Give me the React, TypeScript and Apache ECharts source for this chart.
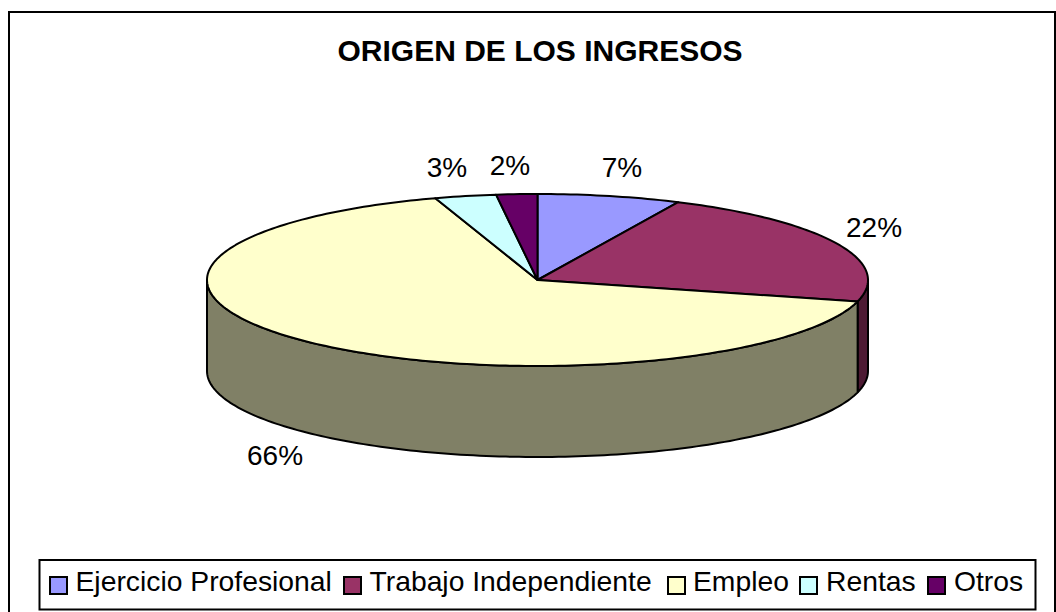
import React, { useEffect, useRef } from "react";
import * as echarts from "echarts";

const categories = ["Ejercicio Profesional", "Trabajo Independiente", "Empleo", "Rentas", "Otros"];
const values = [7, 22, 66, 3, 2];
const percentLabels = ["7%", "22%", "66%", "3%", "2%"];
const topColors = ["#9999ff", "#993366", "#ffffcc", "#ccffff", "#660066"];
const sideColors = ["#4d4d80", "#4d1a33", "#808066", "#668080", "#330033"];
const labelPositions = [[622, 167], [874, 227], [275, 455], [447, 167], [510, 165]];
const legendSwatchX = [50, 344, 668, 800, 928];
const legendTextX = [75.5, 369.5, 693, 826, 954];

const CX = 537.5, CY = 280, RX = 330.5, RY = 86, DEPTH = 91;
const total = values.reduce((a, b) => a + b, 0);
const pt = (t: number, dy = 0) => [CX + RX * Math.sin(t), CY - RY * Math.cos(t) + dy];
const stroke = { stroke: "#000", lineWidth: 2, lineJoin: "round" as const };

function arcPoints(a: number, b: number, dy = 0) {
  const n = Math.max(2, Math.ceil((b - a) / 0.02));
  const out: number[][] = [];
  for (let i = 0; i <= n; i++) out.push(pt(a + ((b - a) * i) / n, dy));
  return out;
}

function renderItem(params: any, api: any) {
  const i = params.dataIndex;
  const before = values.slice(0, i).reduce((a, b) => a + b, 0);
  const a = (before / total) * Math.PI * 2;
  const b = ((before + api.value(1)) / total) * Math.PI * 2;
  const children: any[] = [];
  const wa = Math.max(a, Math.PI / 2);
  const wb = Math.min(b, (Math.PI * 3) / 2);
  if (wb > wa) {
    const front = arcPoints(wa, wb);
    const back = arcPoints(wa, wb, DEPTH).reverse();
    children.push({
      type: "polygon",
      shape: { points: [...front, ...back] },
      style: { fill: sideColors[i], ...stroke },
    });
  }
  children.push({
    type: "polygon",
    shape: { points: [[CX, CY], ...arcPoints(a, b)] },
    style: { fill: topColors[i], ...stroke },
  });
  return { type: "group", children };
}

export default function App() {
  const ref = useRef<HTMLDivElement>(null);
  useEffect(() => {
    const chart = echarts.init(ref.current!, undefined, { renderer: "svg" });
    const font = "Liberation Sans, Arial, sans-serif";
    chart.setOption({
      animation: false,
      backgroundColor: "#fff",
      series: [
        {
          type: "custom",
          coordinateSystem: "none",
          renderItem,
          silent: true,
          data: categories.map((c, i) => ({ name: c, value: [i, values[i]] })),
        },
      ],
      graphic: [
        { type: "rect", z: -1, shape: { x: 9, y: 12, width: 1046, height: 610 }, style: { fill: "#fff", stroke: "#000", lineWidth: 2 } },
        {
          type: "text", x: 540, y: 50,
          style: { text: "ORIGEN DE LOS INGRESOS", fill: "#000", font: `bold 30px ${font}`, align: "center", verticalAlign: "middle" },
        },
        ...percentLabels.map((t, i) => ({
          type: "text", x: labelPositions[i][0], y: labelPositions[i][1],
          style: { text: t, fill: "#000", font: `28px ${font}`, align: "center", verticalAlign: "middle" },
        })),
        { type: "rect", shape: { x: 39.5, y: 560, width: 996, height: 49.5 }, style: { fill: "#fff", stroke: "#000", lineWidth: 2 } },
        ...categories.flatMap((c, i) => [
          { type: "rect", shape: { x: legendSwatchX[i], y: 577, width: 17, height: 17 }, style: { fill: topColors[i], stroke: "#000", lineWidth: 2 } },
          { type: "text", x: legendTextX[i], y: 581, style: { text: c, fill: "#000", font: `28.3px ${font}`, align: "left", verticalAlign: "middle" } },
        ]),
      ],
    });
    return () => chart.dispose();
  }, []);
  return <div ref={ref} style={{ position: "absolute", left: 0, top: 0, width: 1056, height: 612 }} />;
}
